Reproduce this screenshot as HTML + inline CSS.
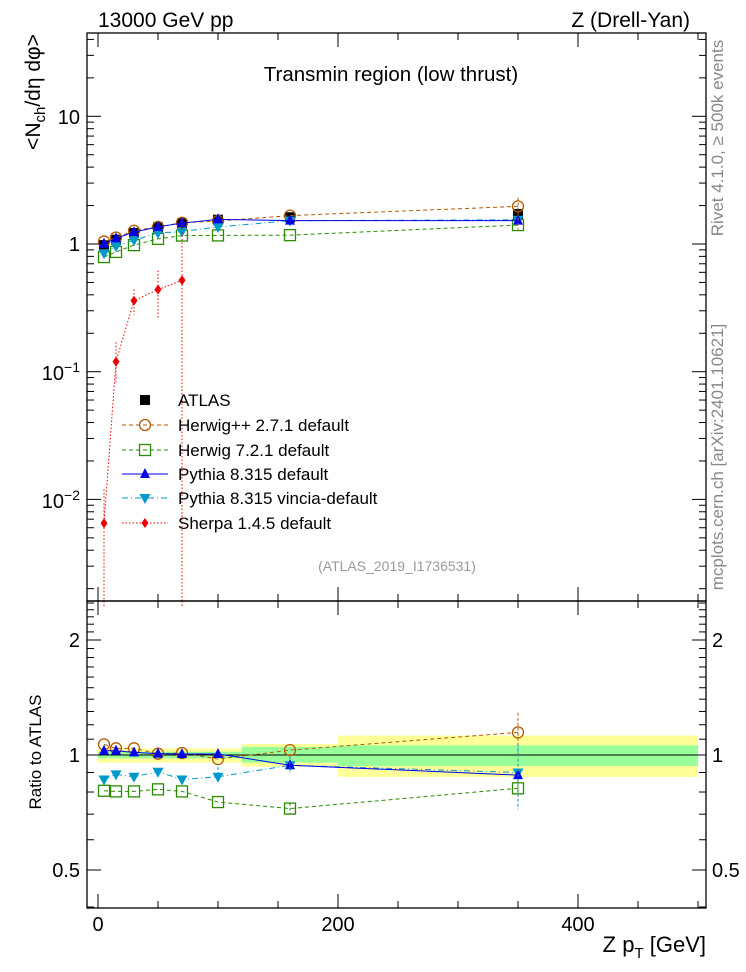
<!DOCTYPE html>
<html><head><meta charset="utf-8"><style>
body{margin:0;background:#fff}
svg{display:block;font-family:"Liberation Sans",sans-serif}
</style></head><body>
<svg id="s" width="746" height="972" viewBox="0 0 746 972" xmlns="http://www.w3.org/2000/svg">
<rect width="746" height="972" fill="#fff"/>
<g id="bands"></g>
<g id="data"></g>
<rect x="87" y="33" width="619" height="568" fill="none" stroke="#000" stroke-width="1.3"/>
<rect x="87" y="601" width="619" height="307" fill="none" stroke="#000" stroke-width="1.3"/>
<g id="ticks" stroke="#000" stroke-width="1"></g>
<g font-size="21">
<text x="98" y="27">13000 GeV pp</text>
<text x="690" y="27" text-anchor="end">Z (Drell-Yan)</text>
</g>
<text x="706" y="952" font-size="22" text-anchor="end">Z p<tspan font-size="15" dy="6">T</tspan><tspan dy="-6"> [GeV]</tspan></text>
<text x="391" y="81" font-size="20.5" text-anchor="middle">Transmin region (low thrust)</text>
<text x="397" y="571" font-size="14" fill="#999" text-anchor="middle">(ATLAS_2019_I1736531)</text>
<g font-size="17" fill="#888">
<text transform="translate(723,138) rotate(-90)" text-anchor="middle">Rivet 4.1.0, ≥ 500k events</text>
<text transform="translate(723,457) rotate(-90)" text-anchor="middle">mcplots.cern.ch [arXiv:2401.10621]</text>
</g>
<text transform="translate(40,92) rotate(-90)" font-size="21" text-anchor="middle">&lt;N<tspan font-size="15" dy="5">ch</tspan><tspan dy="-5">/dη dφ&gt;</tspan></text>
<text transform="translate(41,752) rotate(-90)" font-size="17" text-anchor="middle">Ratio to ATLAS</text>
<g font-size="20">
<text x="80" y="124" text-anchor="end">10</text>
<text x="80" y="251" text-anchor="end">1</text>
<text x="80" y="380" text-anchor="end">10<tspan font-size="14" dy="-8">−1</tspan></text>
<text x="80" y="508" text-anchor="end">10<tspan font-size="14" dy="-8">−2</tspan></text>
<text x="80" y="647" text-anchor="end">2</text>
<text x="80" y="762" text-anchor="end">1</text>
<text x="80" y="877" text-anchor="end">0.5</text>
<text x="712" y="647">2</text>
<text x="712" y="762">1</text>
<text x="712" y="877">0.5</text>
<text x="98" y="931" text-anchor="middle">0</text>
<text x="338" y="931" text-anchor="middle">200</text>
<text x="578" y="931" text-anchor="middle">400</text>
</g>
<g font-size="17">
<text x="178" y="406">ATLAS</text>
<text x="178" y="431">Herwig++ 2.7.1 default</text>
<text x="178" y="456">Herwig 7.2.1 default</text>
<text x="178" y="480">Pythia 8.315 default</text>
<text x="178" y="504">Pythia 8.315 vincia-default</text>
<text x="178" y="529">Sherpa 1.4.5 default</text>
</g>
<g id="leg"></g>
</svg>
<script>
const NS="http://www.w3.org/2000/svg";
const X=v=>98+1.2*v, Y=v=>244-127.7*Math.log10(v), R=v=>755-382*Math.log10(v);
function el(p,t,a){const e=document.createElementNS(NS,t);for(const k in a)e.setAttribute(k,a[k]);document.getElementById(p).appendChild(e);return e;}
for(let d=-3;d<=1;d++)for(let m=1;m<10;m++){const v=m*Math.pow(10,d);const y=Y(v);if(y<33||y>601)continue;const L=m==1?14:7;
el("ticks","line",{x1:87,x2:87+L,y1:y,y2:y});el("ticks","line",{x1:706,x2:706-L,y1:y,y2:y});}
[0.4,0.5,0.6,0.7,0.8,0.9,1,1.1,1.2,1.3,1.4,1.5,1.6,1.7,1.8,1.9,2,2.1,2.2,2.3,2.4,2.5].forEach(v=>{const y=R(v);if(y<601||y>908)return;const L=(v==0.5||v==1||v==2)?14:7;
el("ticks","line",{x1:87,x2:87+L,y1:y,y2:y});el("ticks","line",{x1:706,x2:706-L,y1:y,y2:y});});
for(let v=0;v<=500;v+=50){const x=X(v);const L=v%200==0?14:7;
[[33,1],[601,-1],[601,1],[908,-1]].forEach(([y,s])=>el("ticks","line",{x1:x,x2:x,y1:y,y2:y+s*L}));}
const bins=[[0,10,1.02,0.98,1.04,0.955],[10,20,1.02,0.98,1.04,0.955],[20,40,1.02,0.98,1.04,0.955],[40,60,1.02,0.98,1.04,0.955],[60,80,1.02,0.98,1.04,0.955],[80,120,1.02,0.98,1.04,0.955],[120,200,1.05,0.955,1.068,0.932],[200,500,1.06,0.936,1.124,0.876]];
bins.forEach(b=>{el("bands","rect",{x:X(b[0]),width:X(b[1])-X(b[0]),y:R(b[4]),height:R(b[5])-R(b[4]),fill:"#ffff99"});});
bins.forEach(b=>{el("bands","rect",{x:X(b[0]),width:X(b[1])-X(b[0]),y:R(b[2]),height:R(b[3])-R(b[2]),fill:"#99ff99"});});
el("bands","line",{x1:87,x2:706,y1:R(1),y2:R(1),stroke:"#000","stroke-width":1});
const xs=[5,15,30,50,70,100,160,350];
const atlas=[0.98,1.08,1.22,1.35,1.45,1.55,1.62,1.72];
const S={
hpp:{r:[1.066,1.041,1.041,1.008,1.012,0.976,1.03,1.146],c:"#b35900",d:"4,3",m:"circ"},
h7:{r:[0.806,0.803,0.803,0.813,0.803,0.753,0.724,0.818],c:"#2a8c00",d:"4,3",m:"sq"},
vin:{r:[0.863,0.89,0.877,0.904,0.863,0.877,0.94,0.9],c:"#0099cc",d:"6,3,1,3",m:"tdn"},
py:{r:[1.026,1.026,1.016,1.008,1.006,1.006,0.94,0.886],c:"#0000ee",d:"",m:"tup"}};
function mark(g,t,x,y,c){
if(t=="circ")el(g,"circle",{cx:x,cy:y,r:5.5,fill:"none",stroke:c,"stroke-width":1.3});
if(t=="sq")el(g,"rect",{x:x-5.5,y:y-5.5,width:11,height:11,fill:"none",stroke:c,"stroke-width":1.3});
if(t=="tup")el(g,"polygon",{points:`${x},${y-6} ${x-5},${y+4} ${x+5},${y+4}`,fill:c});
if(t=="tdn")el(g,"polygon",{points:`${x},${y+6} ${x-5.5},${y-4} ${x+5.5},${y-4}`,fill:c});
if(t=="box")el(g,"rect",{x:x-5,y:y-5,width:10,height:10,fill:c});
if(t=="dia")el(g,"polygon",{points:`${x},${y-5} ${x-3.5},${y} ${x},${y+5} ${x+3.5},${y}`,fill:c});}
function line(g,pts,c,d){el(g,"polyline",{points:pts.map(p=>p.join(",")).join(" "),fill:"none",stroke:c,"stroke-width":1,"stroke-dasharray":d});}
xs.forEach((x,i)=>mark("data","box",X(x),Y(atlas[i]),"#000"));
["hpp","h7","vin","py"].forEach(k=>{const s=S[k];const p=xs.map((x,i)=>[X(x),Y(atlas[i]*s.r[i])]);line("data",p,s.c,s.d);p.forEach(q=>mark("data",s.m,q[0],q[1],s.c));
const q=xs.map((x,i)=>[X(x),R(s.r[i])]);line("data",q,s.c,s.d);q.forEach(z=>mark("data",s.m,z[0],z[1],s.c));});
[[350,1.29,1.0,"#b35900"],[350,1.07,0.72,"#0099cc"],[350,0.86,0.78,"#2a8c00"],[160,0.99,0.9,"#0099cc"],[160,0.75,0.7,"#2a8c00"],[100,0.93,0.87,"#0099cc"]].forEach(e=>{el("data","line",{x1:X(e[0]),x2:X(e[0]),y1:R(e[1]),y2:R(e[2]),stroke:e[3],"stroke-dasharray":"3,2"});});
el("data","line",{x1:X(350),x2:X(350),y1:Y(2.3),y2:Y(1.3),stroke:"#b35900","stroke-dasharray":"3,2"});
const sh=[[5,0.0065,0.012,0.0005],[15,0.12,0.17,0.08],[30,0.36,0.44,0.28],[50,0.44,0.62,0.26],[70,0.52,1.5,0.0005]];
line("data",sh.map(p=>[X(p[0]),Y(p[1])]),"#ee0000","1.5,2");
sh.forEach(p=>{el("data","line",{x1:X(p[0]),x2:X(p[0]),y1:Y(p[2]),y2:Math.min(601,Y(p[3])),stroke:"#ee0000","stroke-dasharray":"1.5,2"});mark("data","dia",X(p[0]),Y(p[1]),"#ee0000");});
[5,70].forEach(v=>el("data","line",{x1:X(v),x2:X(v),y1:601,y2:606,stroke:"#ee0000","stroke-dasharray":"1.5,2"}));
mark("leg","box",145,400,"#000");
[[425,"#b35900","4,3","circ"],[450,"#2a8c00","4,3","sq"],[474,"#0000ee","","tup"],[498,"#0099cc","6,3,1,3","tdn"],[523,"#ee0000","1.5,2","dia"]].forEach(l=>{
line("leg",[[122,l[0]],[168,l[0]]],l[1],l[2]);mark("leg",l[3],145,l[0],l[1]);});
</script>
</body></html>
